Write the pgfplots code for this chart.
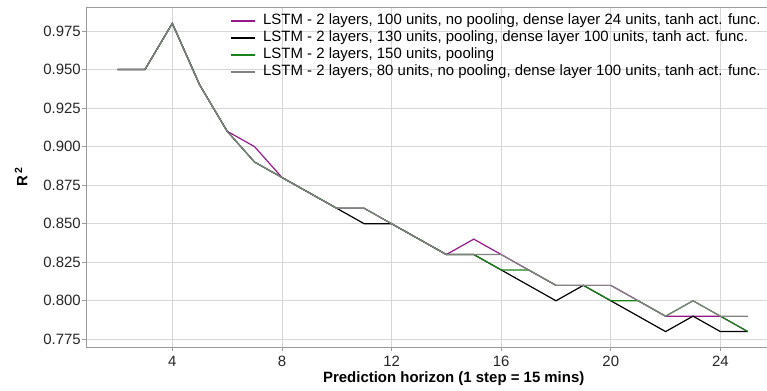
\documentclass[border=0pt]{standalone}
\usepackage{pgfplots}
\pgfplotsset{compat=1.18}
\usepackage{pgfplotstable}
\usepackage{fontspec}
\setmainfont{Liberation Sans}

\definecolor{lstmpurple}{RGB}{150,25,140}
\definecolor{lstmgreen}{RGB}{25,130,25}
\definecolor{lstmgray}{RGB}{130,130,130}
\definecolor{gridgray}{RGB}{215,215,215}
\definecolor{framegray}{RGB}{155,155,155}

% R^2 per prediction horizon (steps of 15 min) for the four LSTM variants
\pgfplotstableread{
h   purple black green gray
2   0.95   0.95  0.95  0.95
3   0.95   0.95  0.95  0.95
4   0.98   0.98  0.98  0.98
5   0.94   0.94  0.94  0.94
6   0.91   0.91  0.91  0.91
7   0.90   0.89  0.89  0.89
8   0.88   0.88  0.88  0.88
9   0.87   0.87  0.87  0.87
10  0.86   0.86  0.86  0.86
11  0.86   0.85  0.86  0.86
12  0.85   0.85  0.85  0.85
13  0.84   0.84  0.84  0.84
14  0.83   0.83  0.83  0.83
15  0.84   0.83  0.83  0.83
16  0.83   0.82  0.82  0.83
17  0.82   0.81  0.82  0.82
18  0.81   0.80  0.81  0.81
19  0.81   0.81  0.81  0.81
20  0.81   0.80  0.80  0.81
21  0.80   0.79  0.80  0.80
22  0.79   0.78  0.79  0.79
23  0.79   0.79  0.80  0.80
24  0.79   0.78  0.79  0.79
25  0.78   0.78  0.78  0.79
}\rsq

\begin{document}
\begin{tikzpicture}
\begin{axis}[
  name=ax,
  scale only axis,
  width=681bp, height=340bp,
  xmin=0.85, xmax=25.7,
  ymin=0.77, ymax=0.9906,
  axis x line*=box, axis y line*=left,
  axis line style={-, draw=framegray, line width=0.8bp},
  every outer y axis line/.append style={-},
  every outer x axis line/.append style={-},
  grid=major,
  major grid style={draw=gridgray, line width=0.8bp},
  tick align=outside,
  major tick length=4bp,
  tick style={draw=framegray, line width=0.8bp},
  xtick pos=bottom, ytick pos=left,
  xtick={4,8,12,16,20,24},
  xticklabels={4,8,12,16,20,24},
  ytick={0.775,0.800,0.825,0.850,0.875,0.900,0.925,0.950,0.975},
  yticklabels={0.775,0.800,0.825,0.850,0.875,0.900,0.925,0.950,0.975},
  ticklabel style={font=\fontsize{15}{17}\selectfont, text=black!85},
  yticklabel style={inner sep=1bp},
  xticklabel style={yshift=-2bp},
  xlabel={\textbf{Prediction horizon (1 step = 15 mins)}},
  every axis x label/.style={at={(rel axis cs:0.540,0)}, anchor=base, yshift=-35bp,
    font=\fontsize{15}{17}\selectfont},
  ylabel={\textbf{R\,\textsuperscript{2}}},
  every axis y label/.style={at={([xshift=-65bp]rel axis cs:0,0.5)}, rotate=90, anchor=center,
    font=\fontsize{15}{17}\selectfont},
  legend image code/.code={%
    \draw[#1, line width=1.8bp] (0bp,0bp) -- (24bp,0bp);},
  legend cell align=left,
  legend style={draw=none, fill=none,
    at={(rel axis cs:0.2066,0.990)}, anchor=north west,
    font=\fontsize{15}{17}\selectfont,
    row sep=0pt, column sep=6bp,
    nodes={inner sep=1.5bp, text height=10.5bp, text depth=3.5bp}},
  every axis plot/.append style={line width=1.2bp},
]
\addplot[lstmpurple] table[x=h, y=purple] {\rsq};
\addlegendentry{LSTM - 2 layers, 100 units, no pooling, dense layer 24 units, tanh act. func.}
\addplot[black] table[x=h, y=black] {\rsq};
\addlegendentry{LSTM - 2 layers, 130 units, pooling, dense layer 100 units, tanh act. func.}
\addplot[lstmgreen] table[x=h, y=green] {\rsq};
\addlegendentry{LSTM - 2 layers, 150 units, pooling}
\addplot[lstmgray] table[x=h, y=gray] {\rsq};
\addlegendentry{LSTM - 2 layers, 80 units, no pooling, dense layer 100 units, tanh act. func.}
\end{axis}
\pgfresetboundingbox
\path[use as bounding box] ([xshift=-86bp,yshift=-44bp]ax.south west) rectangle ([yshift=7bp]ax.north east);
\end{tikzpicture}
\end{document}
